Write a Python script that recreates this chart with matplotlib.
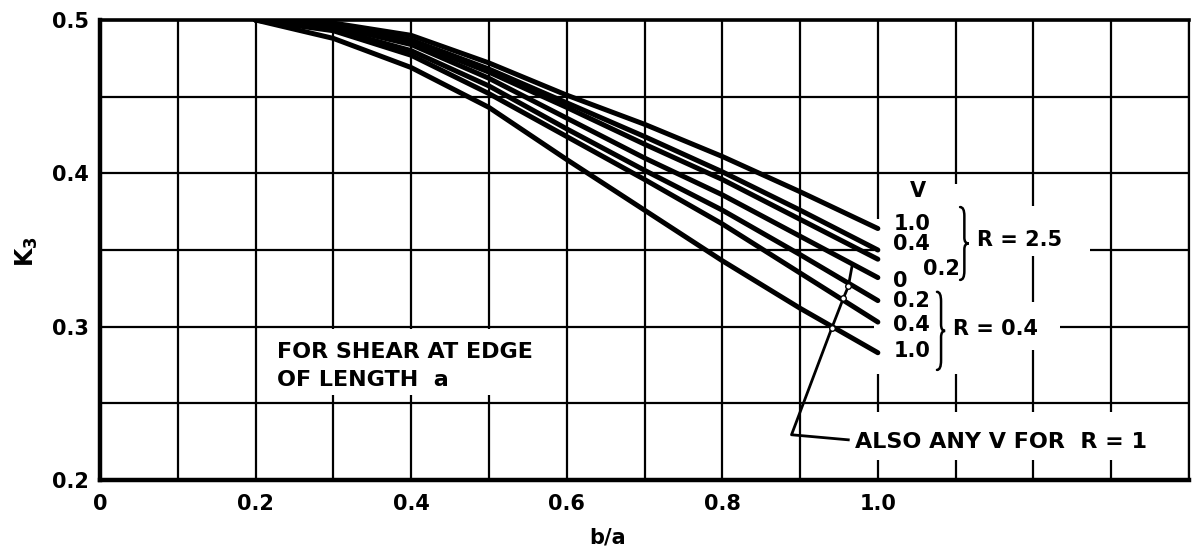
import matplotlib
matplotlib.use("Agg")
import matplotlib.pyplot as plt
from matplotlib.patches import Rectangle, PathPatch
from matplotlib.path import Path

# b/a values where the curves were read
b_over_a = [0.2, 0.3, 0.4, 0.5, 0.6, 0.7, 0.8, 0.9, 1.0]

# K3 curves (top to bottom at b/a = 1.0)
k3_v10_r25 = [0.500, 0.498, 0.490, 0.472, 0.451, 0.432, 0.411, 0.388, 0.364]
k3_v04_r25 = [0.500, 0.497, 0.487, 0.468, 0.446, 0.424, 0.401, 0.376, 0.350]
k3_v02_r25 = [0.500, 0.497, 0.486, 0.466, 0.443, 0.419, 0.396, 0.370, 0.344]
k3_v0 = [0.500, 0.496, 0.484, 0.462, 0.436, 0.410, 0.386, 0.359, 0.332]
k3_v02_r04 = [0.500, 0.494, 0.480, 0.457, 0.429, 0.402, 0.376, 0.347, 0.317]
k3_v04_r04 = [0.500, 0.493, 0.477, 0.452, 0.424, 0.396, 0.367, 0.335, 0.303]
k3_v10_r04 = [0.500, 0.488, 0.469, 0.443, 0.409, 0.376, 0.343, 0.312, 0.283]

curves = [k3_v10_r25, k3_v04_r25, k3_v02_r25, k3_v0, k3_v02_r04, k3_v04_r04, k3_v10_r04]

# labels at the end of each curve
v_labels = ["1.0", "0.4", "0", "0.2", "0.4", "1.0"]
v_label_y = [0.367, 0.354, 0.330, 0.3165, 0.301, 0.284]

# leader line for "ALSO ANY V FOR R = 1"
leader_x = [0.962, 0.889, 0.9407, 0.9557, 0.962, 0.967]
leader_y = [0.2262, 0.2295, 0.299, 0.3186, 0.3262, 0.340]

x_ticks = [i / 10 for i in range(15)]
x_ticklabels = ["0", "", "0.2", "", "0.4", "", "0.6", "", "0.8", "", "1.0", "", "", "", ""]
y_ticks = [0.2, 0.25, 0.3, 0.35, 0.4, 0.45, 0.5]
y_ticklabels = ["0.2", "", "0.3", "", "0.4", "", "0.5"]


def draw_brace(ax, x0, y0, y1, w, lw=1.8):
    """Right-facing curly brace from y0 to y1, tip at x0 + w."""
    ym = (y0 + y1) / 2
    xm = x0 + w * 0.5
    h = y1 - y0
    verts = [
        (x0, y1),
        (xm, y1), (xm, y1 - 0.12 * h),
        (xm, ym + 0.08 * h),
        (xm, ym), (x0 + w, ym),
        (xm, ym), (xm, ym - 0.08 * h),
        (xm, y0 + 0.12 * h),
        (xm, y0), (x0, y0),
    ]
    codes = [Path.MOVETO, Path.CURVE3, Path.CURVE3, Path.LINETO,
             Path.CURVE3, Path.CURVE3, Path.CURVE3, Path.CURVE3,
             Path.LINETO, Path.CURVE3, Path.CURVE3]
    ax.add_patch(PathPatch(Path(verts, codes), fill=False, edgecolor="black",
                           lw=lw, zorder=4, capstyle="round"))


plt.rcParams["font.family"] = ["DejaVu Sans"]
plt.rcParams["font.weight"] = "bold"

fig = plt.figure(figsize=(11.92, 5.53), dpi=100)
ax = fig.add_axes([100 / 1192, 73 / 553, 1089 / 1192, 460 / 553])

ax.set_xlim(0, 1.4)
ax.set_ylim(0.2, 0.5)
ax.set_xticks(x_ticks)
ax.set_xticklabels(x_ticklabels, fontsize=15, fontweight="bold")
ax.set_yticks(y_ticks)
ax.set_yticklabels(y_ticklabels, fontsize=15, fontweight="bold")
ax.tick_params(length=0)
ax.tick_params(axis="x", pad=10)
ax.tick_params(axis="y", pad=8)

ax.set_axisbelow(True)
ax.grid(True, color="black", lw=1.6)

for side, lw in [("left", 3.2), ("bottom", 3.2), ("top", 2.6), ("right", 1.6)]:
    ax.spines[side].set_linewidth(lw)

# white patches where the grid is interrupted by labels
white_boxes = [
    (0.215, 0.2555, 0.375, 0.043),   # FOR SHEAR ...
    (0.995, 0.269, 0.130, 0.101),    # V column
    (1.030, 0.370, 0.090, 0.023),    # V header
    (1.120, 0.346, 0.153, 0.033),    # R = 2.5
    (1.120, 0.285, 0.114, 0.031),    # R = 0.4
    (0.970, 0.2132, 0.410, 0.0313),  # ALSO ANY V ...
]
for bx, by, bw, bh in white_boxes:
    ax.add_patch(Rectangle((bx, by), bw, bh, facecolor="white",
                           edgecolor="none", zorder=1))

for k3 in curves:
    ax.plot(b_over_a, k3, color="black", lw=3.6, solid_capstyle="round",
            solid_joinstyle="round", zorder=3)

ax.plot(leader_x, leader_y, color="black", lw=2, zorder=4,
        marker="o", markevery=[2, 3, 4], markersize=4,
        markerfacecolor="white", markeredgecolor="black", markeredgewidth=1)

txt = dict(fontsize=15, fontweight="bold", va="center", zorder=5)
ax.text(1.052, 0.3885, "V", ha="center", **txt)
for lab, yy in zip(v_labels, v_label_y):
    ax.text(1.020, yy, lab, ha="left", **txt)
ax.text(1.058, 0.3374, "0.2", ha="left", **txt)

draw_brace(ax, 1.1057, 0.3305, 0.378, 0.011)
draw_brace(ax, 1.076, 0.2718, 0.3227, 0.0105)
ax.text(1.1275, 0.3566, "R = 2.5", ha="left", **txt)
ax.text(1.0967, 0.2986, "R = 0.4", ha="left", **txt)

ann = dict(fontsize=16, fontweight="bold", va="center", ha="left", zorder=5)
ax.text(0.2276, 0.2836, "FOR SHEAR AT EDGE", **ann)
ax.text(0.2276, 0.2653, "OF LENGTH  a", **ann)
ax.text(0.9707, 0.2246, "ALSO ANY V FOR  R = 1", **ann)

ax.text(0.652 / 1.4, -0.126, "b/a", transform=ax.transAxes, ha="center",
        va="center", fontsize=15, fontweight="bold")
ax.text(-0.067, 0.496, r"$\mathbf{K_3}$", transform=ax.transAxes, ha="center",
        va="center", rotation=90, fontsize=17)

fig.savefig("out.png", dpi=100)
